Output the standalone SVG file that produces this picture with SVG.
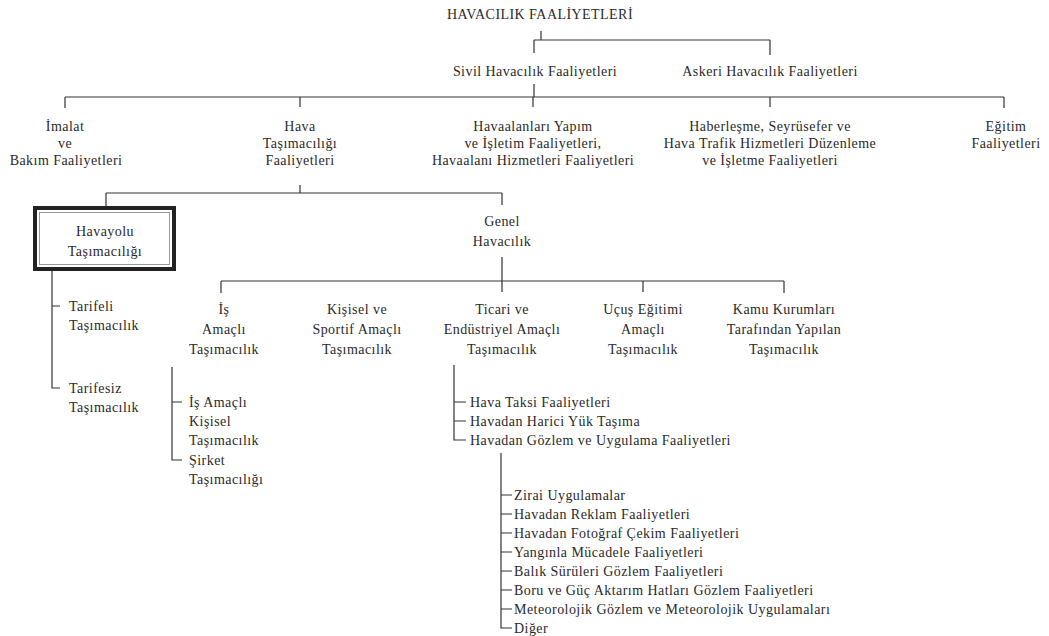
<svg xmlns="http://www.w3.org/2000/svg" width="1049" height="636" viewBox="0 0 1049 636">
<style>
text{font-family:"Liberation Serif","Times New Roman",serif;font-size:14px;fill:#2a2a2a;letter-spacing:0.45px}
.c{text-anchor:middle}
.ln{stroke:#333;stroke-width:1.2;fill:none}
</style>
<rect width="1049" height="636" fill="#fff"/>
<g id="connectors" class="ln">
<path d="M541 31V40M534 40H770M534 40V53M770 40V55"/>
<path d="M534 84V97M65 97H1004M65 97V108M300 97V107M533 97V107M770 97V107M1004 97V108"/>
<path d="M300 185V193M106 193H502M106 193V207M502 193V205"/>
<path d="M52 270V388H60M52 306H60"/>
<path d="M502 257V292M221 281H784M221 281V293M643 281V292M784 281V293"/>
<path d="M172 367V460H182M172 402H182"/>
<path d="M454 365V440H466M454 402H466M454 421H466"/>
<path d="M501 453V628H512M501 495H512M501 514H512M501 533H512M501 552H512M501 571H512M501 590H512M501 609H512"/>
</g>
<g id="n-root"><text class="c" x="540" y="19">HAVACILIK FAALİYETLERİ</text></g>
<g id="n-sivil"><text class="c" x="535" y="76">Sivil Havacılık Faaliyetleri</text></g>
<g id="n-askeri"><text class="c" x="770" y="76">Askeri Havacılık Faaliyetleri</text></g>
<g id="n-imalat"><text class="c" x="65" y="131">İmalat</text><text class="c" x="65" y="148">ve</text><text class="c" x="66" y="165">Bakım Faaliyetleri</text></g>
<g id="n-hava"><text class="c" x="300" y="131">Hava</text><text class="c" x="300" y="148">Taşımacılığı</text><text class="c" x="300" y="165">Faaliyetleri</text></g>
<g id="n-havaalan"><text class="c" x="533" y="131">Havaalanları Yapım</text><text class="c" x="533" y="148">ve İşletim Faaliyetleri,</text><text class="c" x="533" y="165">Havaalanı Hizmetleri Faaliyetleri</text></g>
<g id="n-haber"><text class="c" x="770" y="131">Haberleşme, Seyrüsefer ve</text><text class="c" x="770" y="148">Hava Trafik Hizmetleri Düzenleme</text><text class="c" x="770" y="165">ve İşletme Faaliyetleri</text></g>
<g id="n-egitim"><text class="c" x="1006" y="131">Eğitim</text><text class="c" x="1006" y="148">Faaliyetleri</text></g>
<g id="n-havayolu">
<rect x="35" y="208" width="139" height="61" fill="none" stroke="#222" stroke-width="4"/>
<rect x="39.5" y="212.5" width="130" height="52" fill="none" stroke="#999" stroke-width="1"/>
<text class="c" x="105" y="236">Havayolu</text><text class="c" x="105" y="256">Taşımacılığı</text></g>
<g id="n-genel"><text class="c" x="502" y="226">Genel</text><text class="c" x="502" y="246">Havacılık</text></g>
<g id="n-tarifeli"><text x="69" y="311">Tarifeli</text><text x="69" y="330">Taşımacılık</text></g>
<g id="n-tarifesiz"><text x="69" y="393">Tarifesiz</text><text x="69" y="412">Taşımacılık</text></g>
<g id="n-is"><text class="c" x="224" y="314">İş</text><text class="c" x="224" y="334">Amaçlı</text><text class="c" x="224" y="354">Taşımacılık</text></g>
<g id="n-kisisel"><text class="c" x="357" y="314">Kişisel ve</text><text class="c" x="357" y="334">Sportif Amaçlı</text><text class="c" x="357" y="354">Taşımacılık</text></g>
<g id="n-ticari"><text class="c" x="502" y="314">Ticari ve</text><text class="c" x="502" y="334">Endüstriyel Amaçlı</text><text class="c" x="502" y="354">Taşımacılık</text></g>
<g id="n-ucus"><text class="c" x="643" y="314">Uçuş Eğitimi</text><text class="c" x="643" y="334">Amaçlı</text><text class="c" x="643" y="354">Taşımacılık</text></g>
<g id="n-kamu"><text class="c" x="784" y="314">Kamu Kurumları</text><text class="c" x="784" y="334">Tarafından Yapılan</text><text class="c" x="784" y="354">Taşımacılık</text></g>
<g id="n-is-kisisel"><text x="189" y="407">İş Amaçlı</text><text x="189" y="426">Kişisel</text><text x="189" y="445">Taşımacılık</text></g>
<g id="n-sirket"><text x="189" y="465">Şirket</text><text x="189" y="484">Taşımacılığı</text></g>
<g id="n-taksi"><text x="470" y="407">Hava Taksi Faaliyetleri</text></g>
<g id="n-harici"><text x="470" y="426">Havadan Harici Yük Taşıma</text></g>
<g id="n-gozlem"><text x="470" y="445">Havadan Gözlem ve Uygulama Faaliyetleri</text></g>
<g id="n-zirai"><text x="514" y="500">Zirai Uygulamalar</text></g>
<g id="n-reklam"><text x="514" y="519">Havadan Reklam Faaliyetleri</text></g>
<g id="n-foto"><text x="514" y="538">Havadan Fotoğraf Çekim Faaliyetleri</text></g>
<g id="n-yangin"><text x="514" y="557">Yangınla Mücadele Faaliyetleri</text></g>
<g id="n-balik"><text x="514" y="576">Balık Sürüleri Gözlem Faaliyetleri</text></g>
<g id="n-boru"><text x="514" y="595">Boru ve Güç Aktarım Hatları Gözlem Faaliyetleri</text></g>
<g id="n-meteo"><text x="514" y="614">Meteorolojik Gözlem ve Meteorolojik Uygulamaları</text></g>
<g id="n-diger"><text x="514" y="633">Diğer</text></g>
</svg>
